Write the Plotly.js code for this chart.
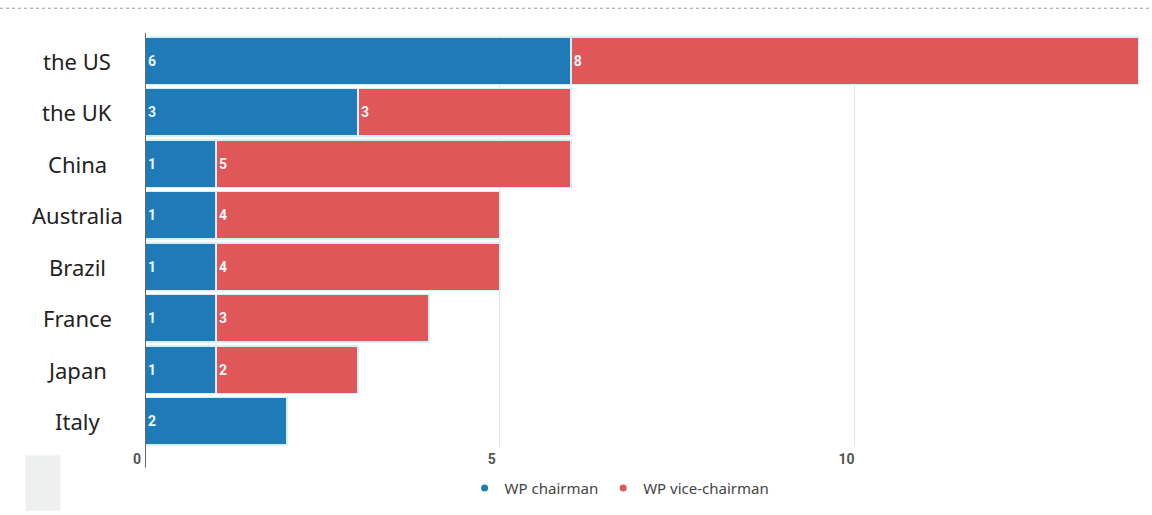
<!DOCTYPE html>
<html>
<head>
<meta charset="utf-8">
<script src="https://cdn.plot.ly/plotly-3.0.1.min.js"></script>
<style>html,body{margin:0;padding:0;background:#fff;}#chart{width:1152px;height:515px;}</style>
</head>
<body>
<div id="chart"></div>
<script>
const countries = ["the US", "the UK", "China", "Australia", "Brazil", "France", "Japan", "Italy"];
const chairman = [6, 3, 1, 1, 1, 1, 1, 2];
const viceChairman = [8, 3, 5, 4, 4, 3, 2, 0];
const xTicks = [0, 5, 10];
const seriesNames = ["WP chairman", "WP vice-chairman"];
const colors = ["#1f7bb8", "#e0575a"];

const barCommon = {
  type: "bar", orientation: "h", y: countries,
  textposition: "inside", insidetextanchor: "start", constraintext: "none",
  textfont: {family: "Roboto, Arial, sans-serif", size: 14, color: "#eaf6fb", weight: 700},
  hoverinfo: "x+y", showlegend: false
};
const traces = [
  Object.assign({}, barCommon, {name: seriesNames[0], x: chairman,
    text: chairman.map(v => v ? String(v) : ""),
    marker: {color: colors[0], line: {color: "#d6f0f8", width: 1.5}}}),
  Object.assign({}, barCommon, {name: seriesNames[1], x: viceChairman,
    text: viceChairman.map(v => v ? String(v) : ""),
    marker: {color: colors[1], line: {color: "#d6f0f8", width: 1.5}}}),
  {type: "scatter", mode: "markers", x: [null], y: [null], name: seriesNames[0],
   marker: {color: colors[0], size: 7, symbol: "circle"}, showlegend: true, hoverinfo: "skip"},
  {type: "scatter", mode: "markers", x: [null], y: [null], name: seriesNames[1],
   marker: {color: colors[1], size: 7, symbol: "circle"}, showlegend: true, hoverinfo: "skip"}
];

const annotations = countries.map(c => ({
  text: c, xref: "paper", x: -0.068, xanchor: "center", yref: "y", y: c,
  showarrow: false, font: {family: "Noto Sans, Open Sans, sans-serif", size: 22, color: "#222"}
}));

const layout = {
  width: 1152, height: 515,
  margin: {l: 145, r: 10, t: 35, b: 64},
  paper_bgcolor: "#fff", plot_bgcolor: "#fff",
  barmode: "stack", bargap: 0.08,
  xaxis: {range: [0, 14.05], tickvals: xTicks, ticktext: xTicks.map(String),
    showgrid: true, gridcolor: "#e4e4e4", gridwidth: 1, zeroline: false,
    showline: false, ticks: "", ticklabelshift: -8, ticklabelstandoff: 2,
    tickfont: {family: "Roboto, Arial, sans-serif", size: 14, color: "#555", weight: 700},
    fixedrange: true},
  yaxis: {autorange: "reversed", showticklabels: false, showgrid: false, zeroline: false,
    showline: false, ticks: "", fixedrange: true},
  showlegend: true,
  legend: {orientation: "h", traceorder: "normal", x: 0.476, xanchor: "center", y: -0.1, yanchor: "middle",
    font: {family: "Noto Sans, Open Sans, sans-serif", size: 15, color: "#444"},
    tracegroupgap: 0, bgcolor: "rgba(0,0,0,0)"},
  annotations: annotations,
  shapes: [
    {type: "line", xref: "x", x0: 0, x1: 0, yref: "paper", y0: -0.05, y1: 1.005,
     line: {color: "#666", width: 2}, layer: "above"},
    {type: "line", xref: "paper", x0: -0.1454, x1: 1.01, yref: "paper", y0: 1.065, y1: 1.065,
     line: {color: "#999", width: 1, dash: "dot"}},
    {type: "rect", xref: "paper", x0: -0.12, x1: -0.085, yref: "paper", y0: -0.155, y1: -0.02,
     fillcolor: "#eef0f0", line: {width: 0}, layer: "below"}
  ]
};

Plotly.newPlot("chart", traces, layout, {displayModeBar: false, staticPlot: true});
</script>
</body>
</html>
